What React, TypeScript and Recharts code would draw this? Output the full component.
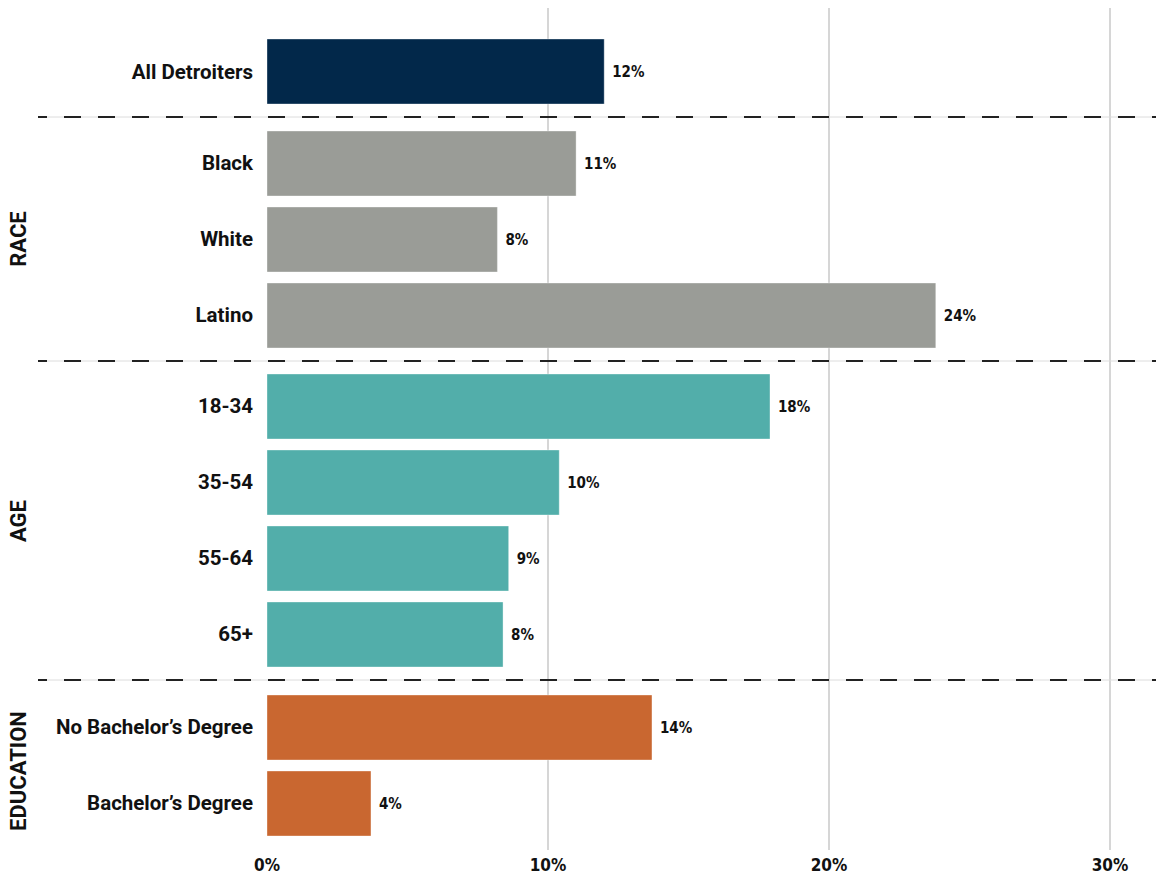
import { BarChart, Bar, XAxis, YAxis, CartesianGrid, LabelList, Cell } from "recharts";

// values (percent)
const allLabels = ["All Detroiters"];
const allValues = [12.0];
const raceLabels = ["Black", "White", "Latino"];
const raceValues = [11.0, 8.2, 23.8];
const ageLabels = ["18-34", "35-54", "55-64", "65+"];
const ageValues = [17.9, 10.4, 8.6, 8.4];
const eduLabels = ["No Bachelor’s Degree", "Bachelor’s Degree"];
const eduValues = [13.7, 3.7];
const xTicks = [0, 10, 20, 30];
const gridTicks = [10, 20, 30];

const W = 1156;
const LABEL_FONT = "Roboto, 'DejaVu Sans', sans-serif";
const VALUE_FONT = "'DejaVu Sans Condensed', 'DejaVu Sans', sans-serif";

const toRows = (labels: string[], values: number[]) =>
  labels.map((name, i) => ({ name, value: values[i] }));

const CategoryTick = (props: any) => {
  const { x, y, payload } = props;
  return (
    <text
      x={x}
      y={y}
      dy="0.35em"
      textAnchor="end"
      fill="#111"
      fontFamily={LABEL_FONT}
      fontWeight={700}
      fontSize={20.5}
    >
      {payload.value}
    </text>
  );
};

const PctTick = (props: any) => {
  const { x, y, payload } = props;
  return (
    <text
      x={x}
      y={y}
      dy="0.75em"
      textAnchor="middle"
      fill="#111"
      fontFamily={VALUE_FONT}
      fontWeight={700}
      fontSize={17}
    >
      {payload.value}%
    </text>
  );
};

interface GroupProps {
  labels: string[];
  values: number[];
  color: string;
  top: number;
  height: number;
  marginTop?: number;
  padTop: number;
  padBottom: number;
  showAxis?: boolean;
}

function GroupChart({
  labels,
  values,
  color,
  top,
  height,
  marginTop = 0,
  padTop,
  padBottom,
  showAxis,
}: GroupProps) {
  const data = toRows(labels, values);
  return (
    <div style={{ position: "absolute", left: 0, top, width: W, height }}>
      <BarChart
        width={W}
        height={height}
        data={data}
        layout="vertical"
        margin={{ top: marginTop, right: 46, bottom: 0, left: 0 }}
      >
        <CartesianGrid
          horizontal={false}
          verticalValues={gridTicks}
          stroke="#c9c9c9"
          strokeWidth={1.5}
        />
        <XAxis
          type="number"
          domain={[0, 30]}
          ticks={xTicks}
          hide={!showAxis}
          axisLine={false}
          tickLine={false}
          tick={<PctTick />}
          height={showAxis ? 29 : 0}
          interval={0}
        />
        <YAxis
          type="category"
          dataKey="name"
          width={267}
          axisLine={false}
          tickLine={false}
          tickSize={6}
          tickMargin={8}
          tick={<CategoryTick />}
          padding={{ top: padTop, bottom: padBottom }}
          interval={0}
        />
        <Bar dataKey="value" barSize={65} isAnimationActive={false}>
          {data.map((d) => (
            <Cell
              key={d.name}
              fill={color}
              stroke="rgba(255,255,255,0.35)"
              strokeWidth={1}
            />
          ))}
          <LabelList
            dataKey="value"
            position="right"
            offset={8}
            formatter={(v: any) => `${Math.round(Number(v))}%`}
            style={{
              fontFamily: VALUE_FONT,
              fontWeight: 700,
              fontSize: 15,
              fill: "#111",
            }}
          />
        </Bar>
      </BarChart>
    </div>
  );
}

const separators = [117, 361, 680];
const groupTitles = [
  { text: "RACE", y: 239 },
  { text: "AGE", y: 521 },
  { text: "EDUCATION", y: 771 },
];

export default function App() {
  return (
    <div
      style={{
        position: "absolute",
        left: 0,
        top: 0,
        width: W,
        height: 879,
        background: "#fff",
        overflow: "hidden",
      }}
    >
      <GroupChart
        labels={allLabels}
        values={allValues}
        color="#02284a"
        top={0}
        height={117}
        marginTop={8}
        padTop={18}
        padBottom={0}
      />
      <GroupChart
        labels={raceLabels}
        values={raceValues}
        color="#9a9c97"
        top={117}
        height={244}
        padTop={8}
        padBottom={8}
      />
      <GroupChart
        labels={ageLabels}
        values={ageValues}
        color="#52aeaa"
        top={361}
        height={319}
        padTop={7}
        padBottom={8}
      />
      <GroupChart
        labels={eduLabels}
        values={eduValues}
        color="#c96730"
        top={680}
        height={199}
        padTop={9}
        padBottom={9}
        showAxis
      />
      <svg
        width={W}
        height={879}
        style={{ position: "absolute", left: 0, top: 0, pointerEvents: "none" }}
      >
        {separators.map((y) => (
          <g key={y}>
            <line x1={38} x2={W} y1={y} y2={y} stroke="#dcdcdc" strokeWidth={1} />
            <line
              x1={38}
              x2={W}
              y1={y}
              y2={y}
              stroke="#222"
              strokeWidth={2}
              strokeDasharray="17 17"
              strokeDashoffset={8}
            />
          </g>
        ))}
        {groupTitles.map((g) => (
          <text
            key={g.text}
            x={18}
            y={g.y}
            transform={`rotate(-90, 18, ${g.y})`}
            textAnchor="middle"
            dominantBaseline="central"
            fontFamily={LABEL_FONT}
            fontWeight={700}
            fontSize={22}
            fill="#111"
          >
            {g.text}
          </text>
        ))}
      </svg>
    </div>
  );
}
